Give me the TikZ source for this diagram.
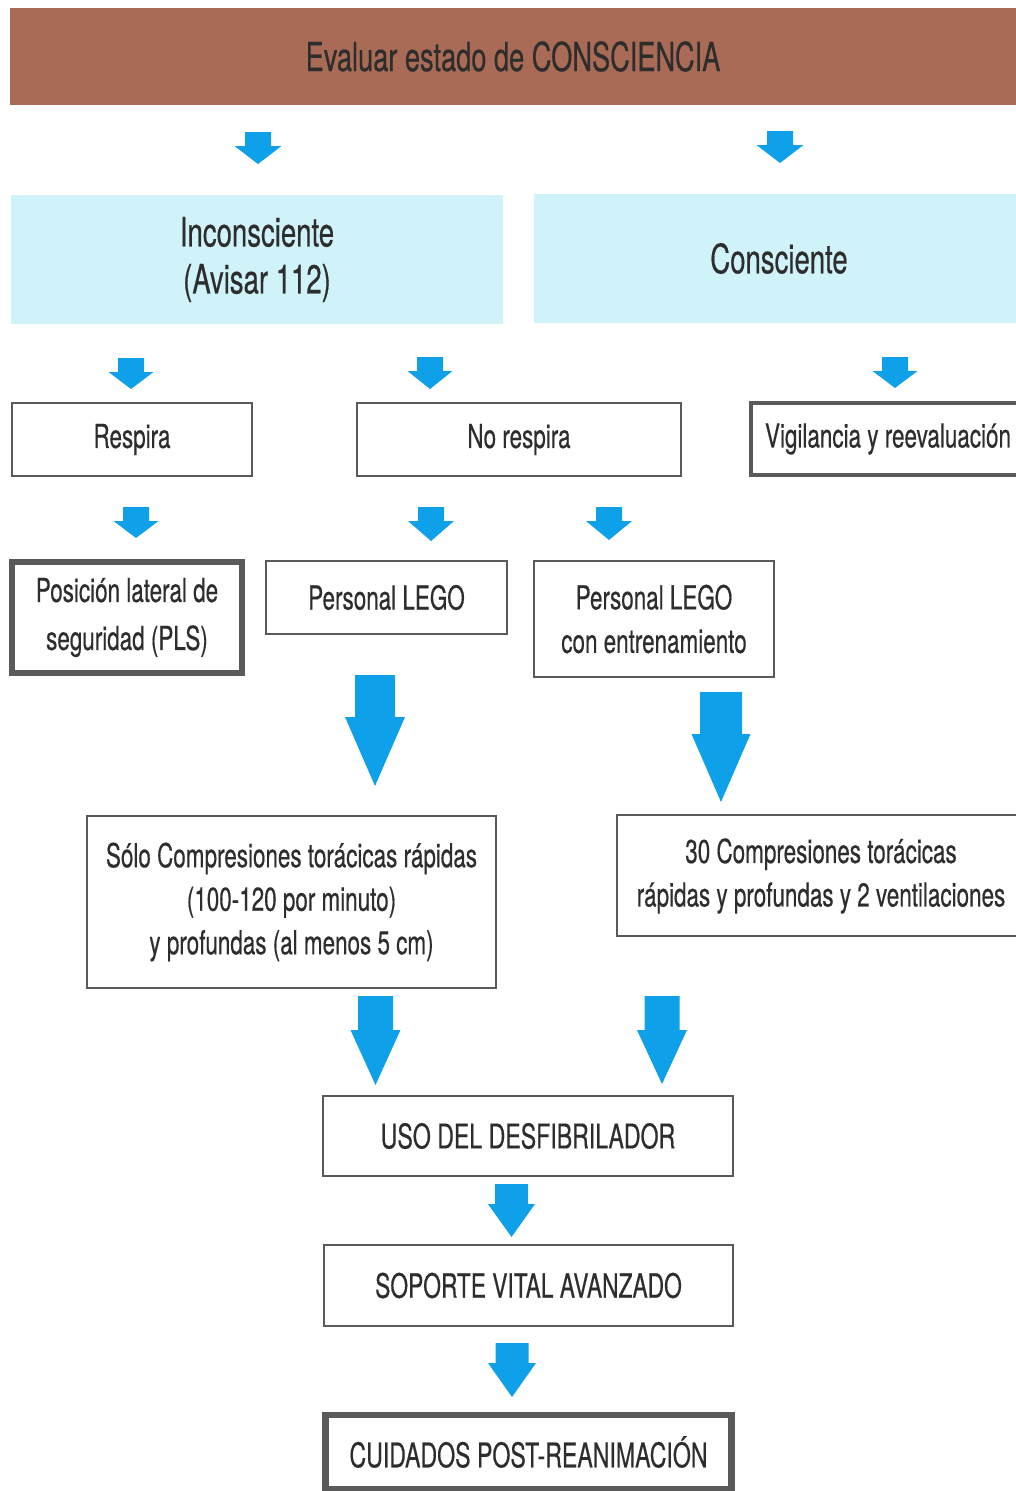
\documentclass[tikz,border=0pt]{standalone}
\usepackage{fontspec}
\setmainfont{TeX Gyre Heros}[FakeStretch=0.68,FakeBold=0.4]
\definecolor{bandbrown}{RGB}{169,107,85}
\definecolor{lightcyan}{RGB}{207,243,249}
\definecolor{arrowblue}{RGB}{14,160,232}
\definecolor{boxgray}{RGB}{90,90,90}
\definecolor{txtgray}{RGB}{45,45,45}
\begin{document}
\begin{tikzpicture}[x=1pt,y=-1pt,
  box/.style={draw=boxgray, line width=2.5pt, fill=white, inner sep=0pt, align=center, text=txtgray},
  medbox/.style={box, line width=4pt},
  thickbox/.style={box, line width=5.5pt},
  cyanbox/.style={fill=lightcyan, inner sep=0pt, align=center, text=txtgray},
  txtA/.style={font=\fontsize{33}{44}\selectfont},
  txtB/.style={font=\fontsize{40.5}{47}\selectfont},
  txtC/.style={font=\fontsize{33}{43.5}\selectfont},
  txtD/.style={font=\fontsize{34}{44}\selectfont}]
\useasboundingbox (0,0) rectangle (1016,1491);
\clip (0,0) rectangle (1016,1491);
\newcommand{\blockarrow}[6]{%
  \fill[arrowblue] ({#1-#5},#2) -- ({#1+#5},#2) -- ({#1+#5},#3) -- ({#1+#6},#3)
    -- (#1,#4) -- ({#1-#6},#3) -- ({#1-#5},#3) -- cycle;}
% top band
\node[fill=bandbrown, minimum width=1006, minimum height=97, inner sep=0pt, text=txtgray,
  font=\fontsize{40}{44}\selectfont] (eval) at (513,56.5) {Evaluar estado de CONSCIENCIA};
% cyan boxes
\node[cyanbox, txtB, minimum width=492, minimum height=129] (incons) at (257,259.5) {Inconsciente\\(Avisar 112)};
\node[cyanbox, txtB, minimum width=490, minimum height=129] (cons) at (779,258.5) {Consciente};
% row 2
\node[box, txtA, minimum width=240, minimum height=73] (resp) at (132,439.5) {Respira};
\node[box, txtA, minimum width=324, minimum height=73] (noresp) at (519,439.5) {No respira};
\node[medbox, minimum width=290, minimum height=72] (vig) at (896,439) {};
\node[txtA, text=txtgray] (vigt) at (888,439) {Vigilancia y reevaluación};
% row 3
\node[thickbox, font=\fontsize{33}{48}\selectfont, minimum width=230, minimum height=111] (pls) at (127,617.5) {Posición lateral de\\seguridad (PLS)};
\node[box, txtA, minimum width=241, minimum height=73] (lego) at (386.5,597.5) {Personal LEGO};
\node[box, txtC, minimum width=240, minimum height=116] (legoe) at (654,619) {Personal LEGO\\con entrenamiento};
% row 4
\node[box, txtC, minimum width=409, minimum height=172] (solo) at (291.5,902) {Sólo Compresiones torácicas rápidas\\(100-120 por minuto)\\y profundas (al menos 5 cm)};
\node[box, minimum width=420, minimum height=121] (treinta) at (827,875.5) {};
\node[txtC, text=txtgray, align=center] (treintat) at (821,876) {30 Compresiones torácicas\\rápidas y profundas y 2 ventilaciones};
% bottom
\node[box, txtD, minimum width=410, minimum height=80] (uso) at (528,1136) {USO DEL DESFIBRILADOR};
\node[box, font=\fontsize{33.5}{44}\selectfont, minimum width=409, minimum height=81] (sva) at (528.5,1285.5) {SOPORTE VITAL AVANZADO};
\node[thickbox, line width=6.5pt, txtD, minimum width=406, minimum height=74] (post) at (528.5,1452) {CUIDADOS POST-REANIMACIÓN};
% block arrows
\blockarrow{258}{132}{146}{164}{13}{23.5}
\blockarrow{780}{131}{145}{163}{13}{23.5}
\blockarrow{131}{358}{372}{389}{13}{22.5}
\blockarrow{430}{357}{371}{389}{13}{22.5}
\blockarrow{895}{357}{371}{388}{13}{22.5}
\blockarrow{136}{507}{521}{538}{13}{22.5}
\blockarrow{431}{507}{521}{541}{13}{23}
\blockarrow{609}{507}{521}{540}{13}{23}
\blockarrow{375}{675}{717}{786}{20}{30}
\blockarrow{721}{692}{734}{802}{21}{29.5}
\blockarrow{375.5}{996}{1030}{1085}{17.5}{25}
\blockarrow{662}{996}{1030}{1084}{17.5}{25}
\blockarrow{511.5}{1184}{1204}{1237}{16.5}{23.5}
\blockarrow{512}{1343}{1363}{1397}{16.5}{24}
\end{tikzpicture}
\end{document}
